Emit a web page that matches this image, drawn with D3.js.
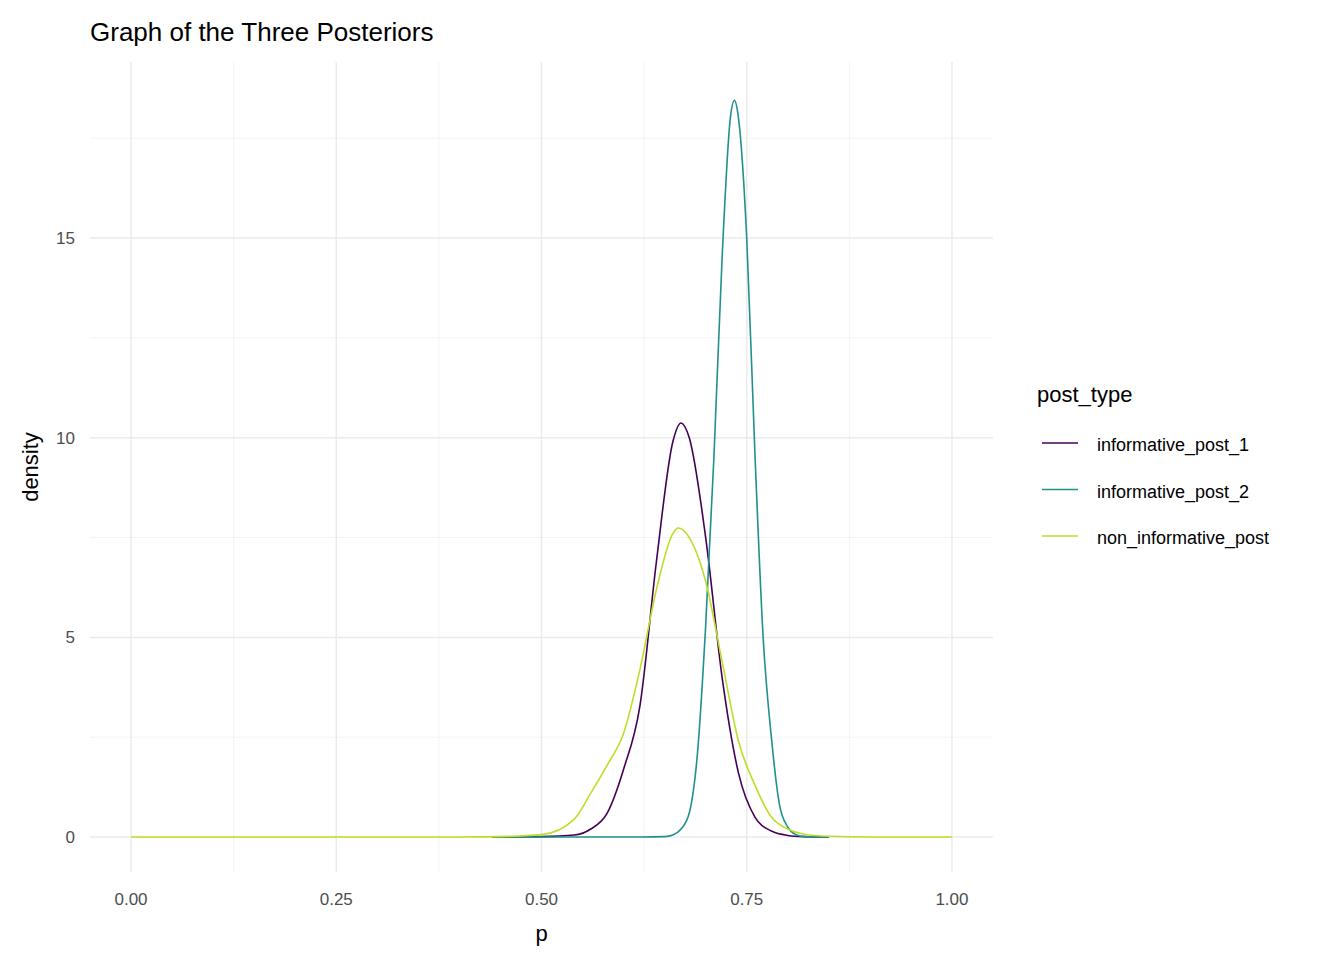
<!DOCTYPE html>
<html>
<head>
<meta charset="utf-8">
<script src="https://cdn.jsdelivr.net/npm/d3@7"></script>
<style>body{margin:0;background:#fff;font-family:Arial,"Liberation Sans",sans-serif;}</style>
</head>
<body>
<div id="chart"></div>
<script>
// values
const seriesNames = ["informative_post_1", "informative_post_2", "non_informative_post"];
const colors = ["#440154", "#21908C", "#BBDF27"];
const post1P = [0.44, 0.50, 0.54, 0.56, 0.58, 0.60, 0.62, 0.64, 0.66, 0.67, 0.68, 0.70, 0.72, 0.74, 0.76, 0.78, 0.80, 0.82, 0.85];
const post1D = [0, 0.01, 0.05, 0.2, 0.6, 1.7, 3.3, 6.9, 9.9, 10.37, 10.0, 7.5, 4.0, 1.6, 0.5, 0.15, 0.04, 0.01, 0];
const post2P = [0.44, 0.62, 0.65, 0.66, 0.67, 0.68, 0.69, 0.70, 0.71, 0.72, 0.73, 0.735, 0.74, 0.75, 0.76, 0.77, 0.78, 0.79, 0.80, 0.81, 0.82, 0.85];
const post2D = [0, 0, 0.01, 0.05, 0.2, 0.6, 2.1, 5.3, 9.5, 14.5, 18.0, 18.45, 18.0, 15.0, 9.6, 5.0, 2.5, 0.8, 0.25, 0.06, 0.01, 0];
const nonP = [0, 0.40, 0.45, 0.50, 0.54, 0.56, 0.58, 0.60, 0.62, 0.64, 0.66, 0.6665, 0.68, 0.70, 0.72, 0.74, 0.76, 0.78, 0.80, 0.82, 0.85, 0.90, 1.0];
const nonD = [0, 0, 0.01, 0.06, 0.45, 1.1, 1.8, 2.6, 4.2, 6.2, 7.6, 7.74, 7.5, 6.4, 4.4, 2.4, 1.3, 0.5, 0.2, 0.07, 0.02, 0, 0];
const xTicks = [0, 0.25, 0.5, 0.75, 1];
const yTicks = [0, 5, 10, 15];

const series = [[post1P, post1D], [post2P, post2D], [nonP, nonD]]
    .map(function(s, i) {
        return {name: seriesNames[i], color: colors[i],
                values: s[0].map(function(p, j) { return {p: p, d: s[1][j]}; })};
    });

const width = 1344, height = 960;
const panelLeft = 90, panelRight = 993, panelTop = 62, panelBottom = 872;

const svg = d3.select('#chart').append('svg')
    .attr('width', width).attr('height', height);

const x = d3.scaleLinear().domain([-0.05, 1.05]).range([panelLeft, panelRight]);
const y = d3.scaleLinear().domain([-0.876, 19.41]).range([panelBottom, panelTop]);

// minor grid
svg.append('g').selectAll('line').data([0.125, 0.375, 0.625, 0.875]).enter().append('line')
    .attr('x1', d => x(d)).attr('x2', d => x(d)).attr('y1', panelTop).attr('y2', panelBottom)
    .attr('stroke', '#f3f3f3').attr('stroke-width', 1);
svg.append('g').selectAll('line').data([2.5, 7.5, 12.5, 17.5]).enter().append('line')
    .attr('y1', d => y(d)).attr('y2', d => y(d)).attr('x1', panelLeft).attr('x2', panelRight)
    .attr('stroke', '#f3f3f3').attr('stroke-width', 1);
// major grid
svg.append('g').selectAll('line').data(xTicks).enter().append('line')
    .attr('x1', d => x(d)).attr('x2', d => x(d)).attr('y1', panelTop).attr('y2', panelBottom)
    .attr('stroke', '#ebebeb').attr('stroke-width', 1.5);
svg.append('g').selectAll('line').data(yTicks).enter().append('line')
    .attr('y1', d => y(d)).attr('y2', d => y(d)).attr('x1', panelLeft).attr('x2', panelRight)
    .attr('stroke', '#ebebeb').attr('stroke-width', 1.5);

// tick labels
svg.append('g').selectAll('text').data(xTicks).enter().append('text')
    .attr('x', d => x(d)).attr('y', 905).attr('text-anchor', 'middle')
    .style('font-size', '17px').style('fill', '#4d4d4d')
    .text(d => d3.format('.2f')(d));
svg.append('g').selectAll('text').data(yTicks).enter().append('text')
    .attr('x', 75).attr('y', d => y(d) + 6).attr('text-anchor', 'end')
    .style('font-size', '17px').style('fill', '#4d4d4d')
    .text(d => d);

// lines
const line = d3.line().x(d => x(d.p)).y(d => y(d.d)).curve(d3.curveMonotoneX);
svg.append('g').selectAll('path').data(series).enter().append('path')
    .attr('d', d => line(d.values))
    .attr('fill', 'none').attr('stroke', d => d.color).attr('stroke-width', 1.6);

// titles
svg.append('text').attr('x', 90).attr('y', 41).style('font-size', '26px').text('Graph of the Three Posteriors');
svg.append('text').attr('x', x(0.5)).attr('y', 941).attr('text-anchor', 'middle').style('font-size', '22px').text('p');
svg.append('text').attr('transform', 'rotate(-90)').attr('x', -(panelTop + panelBottom) / 2).attr('y', 38)
    .attr('text-anchor', 'middle').style('font-size', '22px').text('density');

// legend
const legend = svg.append('g');
legend.append('text').attr('x', 1037).attr('y', 402).style('font-size', '22px').text('post_type');
const item = legend.selectAll('g.item').data(series).enter().append('g')
    .attr('transform', (d, i) => `translate(0, ${443 + i * 46.5})`);
item.append('line').attr('x1', 1042).attr('x2', 1078).attr('stroke', d => d.color).attr('stroke-width', 1.6);
item.append('text').attr('x', 1097).attr('y', 8).style('font-size', '18px').text(d => d.name);
</script>
</body>
</html>
